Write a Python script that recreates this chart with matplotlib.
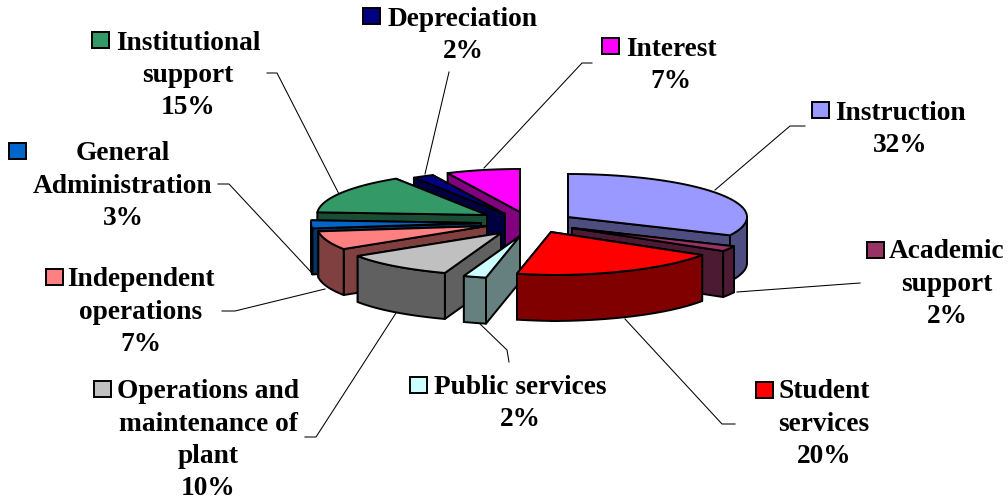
import numpy as np
import matplotlib
matplotlib.use('Agg')
import matplotlib.pyplot as plt
from matplotlib.patches import Polygon, Rectangle

# expense shares, clockwise from 12 o'clock
categories = ['Instruction', 'Academic support', 'Student services', 'Public services',
              'Operations and maintenance of plant', 'Independent operations',
              'General Administration', 'Institutional support', 'Depreciation', 'Interest']
values = [32, 2, 20, 2, 10, 7, 3, 15, 2, 7]
colors = ['#9999FF', '#993366', '#FF0000', '#CCFFFF', '#C0C0C0',
          '#FF8080', '#0066CC', '#339966', '#000080', '#FF00FF']

# where each exploded slice has its tip, pixels
tip_x = [568, 572, 551, 520, 501, 487, 481, 487, 505, 520]
tip_y = [217, 228, 232, 236, 233, 226, 223, 215, 214, 212]
draw_order = [9, 8, 7, 6, 5, 0, 1, 4, 3, 2]

a_right, a_left, b, depth = 179, 170, 43, 46
lw = 1.4

label_lines = [['Instruction'], ['Academic', 'support'], ['Student', 'services'], ['Public services'],
               ['Operations and', 'maintenance of', 'plant'], ['Independent', 'operations'],
               ['General', 'Administration'], ['Institutional', 'support'], ['Depreciation'], ['Interest']]
label_cx = [900, 947, 824, 520, 208, 141, 123, 188, 463, 671]
label_y = [113, 252, 392, 387, 392, 280, 154, 43, 19, 49]
key_x = [812, 867, 756, 410, 94, 46, 9, 92, 363, 602]
key_y = [102, 242, 382, 377, 381, 269, 143, 32, 8, 38]
leaders = [[(805, 126), (790, 126), (715, 190)],
           [(860, 283), (737, 292)],
           [(735, 424), (722, 424), (625, 319)],
           [(509, 362), (507, 350), (478, 322)],
           [(305, 437), (316, 437), (396, 313)],
           [(222, 311), (235, 311), (325, 289)],
           [(218, 184), (229, 184), (311, 272)],
           [(267, 73), (277, 73), (340, 196)],
           [(449, 72), (425, 174)],
           [(592, 63), (582, 63), (484, 168)]]

plt.rcParams['font.family'] = ['Liberation Serif', 'DejaVu Serif']

fig = plt.figure(figsize=(10.08, 5.01), dpi=100)
ax = fig.add_axes([0, 0, 1, 1])
ax.set_xlim(0, 1008)
ax.set_ylim(501, 0)
ax.axis('off')


def rim(i, t):
    # point on the top edge of slice i at angle t (degrees)
    s = np.sin(np.radians(t))
    c = np.cos(np.radians(t))
    a = np.where(s >= 0, a_right, a_left)
    # the lower left front of the pie is pulled in a little
    pull = np.where(s < 0, 10 * np.abs(np.minimum(c, 0)) ** 6, 0)
    return tip_x[i] + a * s + pull, tip_y[i] - b * c


def face(pts, color, z):
    ax.add_patch(Polygon(pts, closed=True, facecolor=color, edgecolor='black',
                         linewidth=lw, joinstyle='round', zorder=z))


for line in leaders:
    xs, ys = zip(*line)
    ax.plot(xs, ys, color='black', lw=0.75, zorder=1)

edges = np.concatenate([[0], np.cumsum(values)]) / sum(values) * 360
z = 2
for i in draw_order:
    t0, t1 = edges[i], edges[i + 1]
    base = matplotlib.colors.to_rgb(colors[i])
    dark = tuple(c * 0.5 for c in base)
    tip = (tip_x[i], tip_y[i])

    # cut walls, the one further back goes first
    walls = sorted([t0, t1], key=lambda t: rim(i, t)[1])
    for t in walls:
        x, y = rim(i, t)
        face([tip, (x, y), (x, y + depth), (tip[0], tip[1] + depth)], dark, z)
        z += 1

    # outer wall, front half only
    lo, hi = max(t0, 90), min(t1, 270)
    if lo < hi:
        tt = np.linspace(lo, hi, 60)
        x, y = rim(i, tt)
        face(np.r_[np.c_[x, y], np.c_[x, y + depth][::-1]], dark, z)
        z += 1

    tt = np.linspace(t0, t1, 80)
    x, y = rim(i, tt)
    face(np.r_[[tip], np.c_[x, y]], base, z)
    z += 1

for i, name in enumerate(categories):
    lines = label_lines[i] + [f'{values[i]}%']
    for k, txt in enumerate(lines):
        ax.text(label_cx[i], label_y[i] + k * 32.3, txt, ha='center', va='center',
                fontsize=19.7, fontweight='bold', color='black', zorder=200)
    ax.add_patch(Rectangle((key_x[i], key_y[i]), 17, 16, facecolor=colors[i],
                           edgecolor='black', linewidth=lw, zorder=200))

fig.savefig('out.png', dpi=100)
